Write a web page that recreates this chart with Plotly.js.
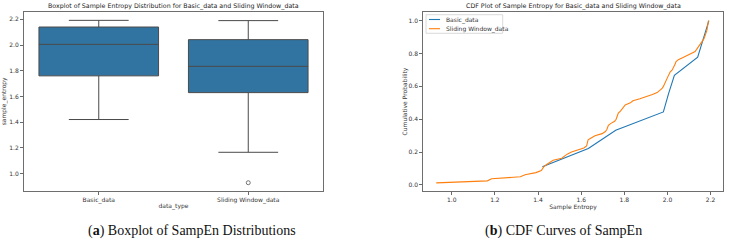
<!DOCTYPE html>
<html>
<head>
<meta charset="utf-8">
<script src="https://cdn.plot.ly/plotly-3.0.1.min.js"></script>
<style>
  html, body { margin: 0; padding: 0; background: #fff; }
  #chart { width: 730px; height: 247px; }
</style>
</head>
<body>
<div id="chart"></div>
<script>
// Sample entropy values per data type
const groupNames = ["Basic_data", "Sliding Window_data"];

const basicData = [1.420, 1.633, 1.760, 1.981, 2.005, 2.032, 2.140, 2.166, 2.192];

const slidingData = [
  0.928, 1.165, 1.185, 1.318, 1.340, 1.390, 1.415, 1.422, 1.428, 1.440,
  1.455, 1.470, 1.510, 1.522, 1.535, 1.555, 1.585, 1.612, 1.625, 1.628,
  1.630, 1.632, 1.648, 1.664, 1.697, 1.712, 1.719, 1.723, 1.726, 1.738,
  1.755, 1.762, 1.766, 1.769, 1.772, 1.782, 1.790, 1.798, 1.804, 1.828,
  1.840, 1.872, 1.904, 1.930, 1.952, 1.966, 1.975, 1.981, 1.985, 1.988,
  1.993, 1.998, 2.003, 2.008, 2.012, 2.022, 2.028, 2.032, 2.036, 2.039,
  2.050, 2.070, 2.090, 2.112, 2.128, 2.135, 2.142, 2.148, 2.155, 2.160,
  2.168, 2.172, 2.176, 2.180, 2.182, 2.184, 2.186, 2.188, 2.189, 2.190
];

const boxTickVals = [1.0, 1.2, 1.4, 1.6, 1.8, 2.0, 2.2];
const cdfXTickVals = [1.0, 1.2, 1.4, 1.6, 1.8, 2.0, 2.2];
const cdfYTickVals = [0.0, 0.2, 0.4, 0.6, 0.8, 1.0];

const titleBox = "Boxplot of Sample Entropy Distribution for Basic_data and Sliding Window_data";
const titleCdf = "CDF Plot of Sample Entropy for Basic_data and Sliding Window_data";
const captionA = "(<b>a</b>) Boxplot of SampEn Distributions";
const captionB = "(<b>b</b>) CDF Curves of SampEn";

// ---- helpers ----
const W = 730, H = 247;
const px = v => v / W;
const py = v => 1 - v / H;

function percentile(sorted, p) {
  const pos = (sorted.length - 1) * p;
  const lo = Math.floor(pos), hi = Math.ceil(pos);
  return sorted[lo] + (sorted[hi] - sorted[lo]) * (pos - lo);
}

function boxStats(values) {
  const s = values.slice().sort((a, b) => a - b);
  const q1 = percentile(s, 0.25), med = percentile(s, 0.5), q3 = percentile(s, 0.75);
  const iqr = q3 - q1;
  const inside = s.filter(v => v >= q1 - 1.5 * iqr && v <= q3 + 1.5 * iqr);
  const outliers = s.filter(v => v < q1 - 1.5 * iqr || v > q3 + 1.5 * iqr);
  return { q1, med, q3, lo: inside[0], hi: inside[inside.length - 1], outliers };
}

function cdf(values) {
  const s = values.slice().sort((a, b) => a - b);
  return { x: s, y: s.map((_, i) => (i + 1) / s.length) };
}

const blue = "#3274a1";
const lineGrey = "#4a4a4a";
const font = "DejaVu Sans, sans-serif";

const groups = [basicData, slidingData];
const stats = groups.map(boxStats);

const traces = [];

// box plot (left)
traces.push({
  type: "box",
  x: groupNames,
  q1: stats.map(s => s.q1),
  median: stats.map(s => s.med),
  q3: stats.map(s => s.q3),
  lowerfence: stats.map(s => s.lo),
  upperfence: stats.map(s => s.hi),
  width: 0.8,
  whiskerwidth: 0.5,
  fillcolor: blue,
  line: { color: lineGrey, width: 1 },
  boxpoints: false,
  hoverinfo: "skip",
  showlegend: false,
  xaxis: "x", yaxis: "y"
});

// outliers
const outX = [], outY = [];
stats.forEach((s, i) => s.outliers.forEach(v => { outX.push(groupNames[i]); outY.push(v); }));
traces.push({
  type: "scatter", mode: "markers",
  x: outX, y: outY,
  marker: { symbol: "circle-open", size: 4, color: "#555", line: { width: 0.8 } },
  showlegend: false, hoverinfo: "skip",
  xaxis: "x", yaxis: "y"
});

// CDF curves (right)
const cdfColors = ["#1f77b4", "#ff7f0e"];
groups.forEach((g, i) => {
  const c = cdf(g);
  traces.push({
    type: "scatter", mode: "lines",
    x: c.x, y: c.y,
    name: groupNames[i],
    line: { color: cdfColors[i], width: 1.1 },
    showlegend: false, hoverinfo: "skip",
    xaxis: "x2", yaxis: "y2"
  });
});

const axisCommon = {
  showgrid: false, zeroline: false,
  showline: true, mirror: true, linecolor: "#6e6e6e", linewidth: 1,
  ticks: "outside", ticklen: 3, tickwidth: 0.8, tickcolor: "#444",
  tickfont: { family: font, size: 6, color: "#333" },
  fixedrange: true
};

const layout = {
  width: W, height: H,
  margin: { l: 0, r: 0, t: 0, b: 0 },
  paper_bgcolor: "#fff", plot_bgcolor: "#fff",
  showlegend: false,
  xaxis: Object.assign({}, axisCommon, {
    domain: [px(24), px(323)],
    type: "category",
    range: [-0.5, 1.5],
    anchor: "y",
    title: { text: "data_type", font: { family: font, size: 6, color: "#333" }, standoff: 0 }
  }),
  yaxis: Object.assign({}, axisCommon, {
    domain: [py(190.7), py(12)],
    range: [0.866, 2.257],
    tickvals: boxTickVals,
    ticktext: boxTickVals.map(v => v.toFixed(1)),
    anchor: "x",
    title: { text: "sample_entropy", font: { family: font, size: 6, color: "#333" }, standoff: 4 }
  }),
  xaxis2: Object.assign({}, axisCommon, {
    domain: [px(423.3), px(722.7)],
    range: [0.868, 2.256],
    tickvals: cdfXTickVals,
    ticktext: cdfXTickVals.map(v => v.toFixed(1)),
    anchor: "y2",
    title: { text: "Sample Entropy", font: { family: font, size: 6, color: "#333" }, standoff: 0 }
  }),
  yaxis2: Object.assign({}, axisCommon, {
    domain: [py(190.7), py(12.3)],
    range: [-0.035, 1.051],
    tickvals: cdfYTickVals,
    ticktext: cdfYTickVals.map(v => v.toFixed(1)),
    anchor: "x2",
    title: { text: "Cumulative Probability", font: { family: font, size: 6, color: "#333" }, standoff: 0 }
  }),
  annotations: [
    { text: titleBox, xref: "paper", yref: "paper", x: px(173.5), y: py(6), xanchor: "center", yanchor: "middle",
      showarrow: false, font: { family: font, size: 6.3, color: "#222" } },
    { text: titleCdf, xref: "paper", yref: "paper", x: px(573), y: py(6.5), xanchor: "center", yanchor: "middle",
      showarrow: false, font: { family: font, size: 6.3, color: "#222" } },
    { text: captionA, xref: "paper", yref: "paper", x: px(192), y: py(231), xanchor: "center", yanchor: "middle",
      showarrow: false, font: { family: "Liberation Serif, serif", size: 14, color: "#111" } },
    { text: captionB, xref: "paper", yref: "paper", x: px(563), y: py(231), xanchor: "center", yanchor: "middle",
      showarrow: false, font: { family: "Liberation Serif, serif", size: 14, color: "#111" } }
  ],
  shapes: []
};

// legend for the CDF panel
const legX0 = 426, legY0 = 14.7, legX1 = 502.7, legY1 = 33.3;
layout.shapes.push({
  type: "rect", xref: "paper", yref: "paper",
  x0: px(legX0), x1: px(legX1), y0: py(legY1), y1: py(legY0),
  line: { color: "#d0d0d0", width: 0.8 }, fillcolor: "rgba(255,255,255,0.85)"
});
groupNames.forEach((name, i) => {
  const yy = 19.5 + i * 9.2;
  layout.shapes.push({
    type: "line", xref: "paper", yref: "paper",
    x0: px(429), x1: px(440), y0: py(yy), y1: py(yy),
    line: { color: cdfColors[i], width: 1.1 }
  });
  layout.annotations.push({
    text: name, xref: "paper", yref: "paper", x: px(444), y: py(yy),
    xanchor: "left", yanchor: "middle", showarrow: false,
    font: { family: font, size: 6, color: "#333" }
  });
});

Plotly.newPlot("chart", traces, layout, { staticPlot: true, displayModeBar: false });
</script>
</body>
</html>
